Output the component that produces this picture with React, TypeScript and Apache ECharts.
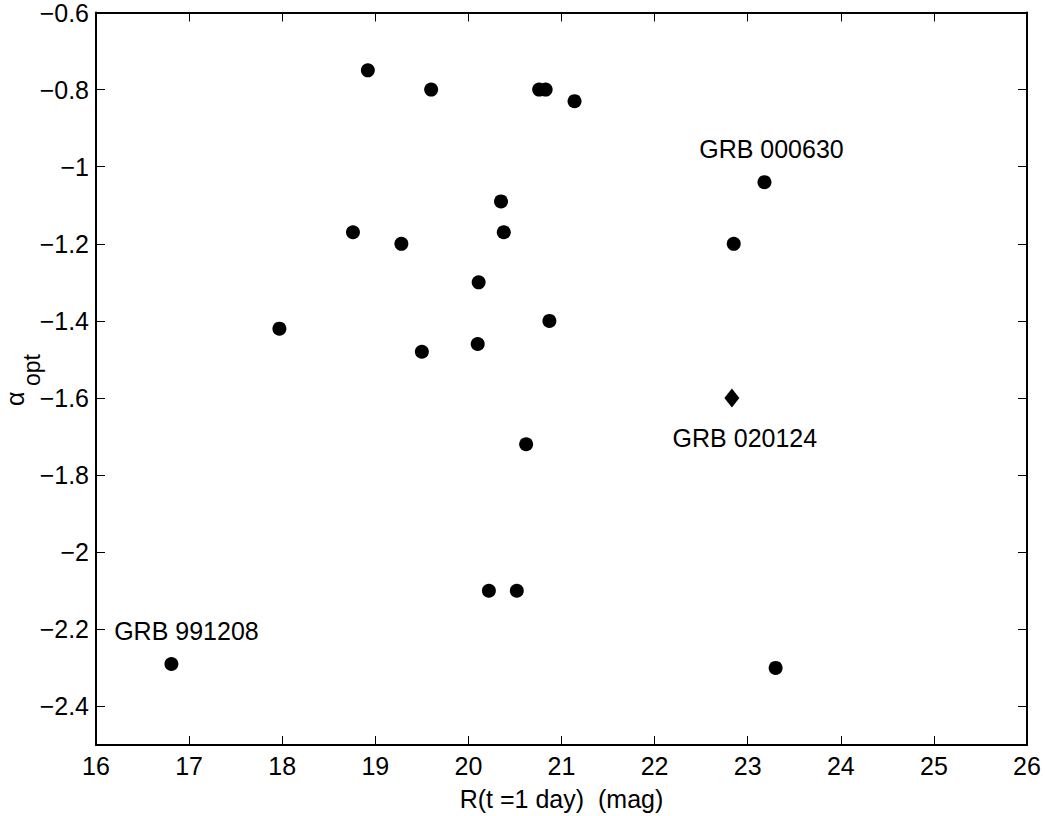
import React, { useEffect, useRef } from "react";
import * as echarts from "echarts";

// R(t = 1 day) magnitudes and optical decay indices (circles)
const rMag = [16.81, 17.97, 18.76, 18.92, 19.28, 19.5, 19.6, 20.1, 20.11, 20.22, 20.35, 20.38, 20.52, 20.62, 20.76, 20.83, 20.87, 21.14, 22.85, 23.18, 23.3];
const alphaOpt = [-2.29, -1.42, -1.17, -0.75, -1.2, -1.48, -0.8, -1.46, -1.3, -2.1, -1.09, -1.17, -2.1, -1.72, -0.8, -0.8, -1.4, -0.83, -1.2, -1.04, -2.3];

// special burst (diamond)
const rSpecial = [22.83];
const alphaSpecial = [-1.6];

// annotated bursts: index into circle arrays
const circleNames: Record<number, string> = { 0: "GRB 991208", 19: "GRB 000630" };
const specialNames = ["GRB 020124"];

const xTicks = [16, 17, 18, 19, 20, 21, 22, 23, 24, 25, 26];
const yTicks = [-2.4, -2.2, -2.0, -1.8, -1.6, -1.4, -1.2, -1.0, -0.8, -0.6];

const FONT = "'Liberation Sans', Arial, Helvetica, sans-serif";

const labelOffsets: Record<string, number[]> = {
  "GRB 991208": [15, -33],
  "GRB 000630": [7, -33],
  "GRB 020124": [13, 40],
};

function fmtY(v: number) {
  const a = parseFloat(Math.abs(v).toFixed(1));
  return (v < 0 ? "\u2212" : "") + a;
}

export default function App() {
  const ref = useRef<HTMLDivElement>(null);
  useEffect(() => {
    if (!ref.current) return;
    const chart = echarts.init(ref.current, undefined, { renderer: "svg" });

    const mkLabel = (name: string) => ({
      show: true,
      formatter: name,
      position: "inside",
      offset: labelOffsets[name],
      color: "#000",
      fontSize: 25,
      fontFamily: FONT,
    });

    const circleData = rMag.map((x, i) => {
      const d: any = { value: [x, alphaOpt[i]] };
      if (circleNames[i]) d.label = mkLabel(circleNames[i]);
      return d;
    });
    const specialData = rSpecial.map((x, i) => ({
      value: [x, alphaSpecial[i]],
      label: mkLabel(specialNames[i]),
    }));

    const axisLine = { show: true, onZero: false, lineStyle: { color: "#000", width: 2 } };
    const axisTick = { show: true, inside: true, length: 9, lineStyle: { color: "#000", width: 1 } };

    chart.setOption({
      animation: false,
      backgroundColor: "#fff",
      grid: { left: 96, top: 12, width: 931, height: 734, containLabel: false },
      xAxis: [
        {
          type: "value",
          position: "bottom",
          min: 16,
          max: 26,
          interval: 1,
          axisLine,
          axisTick,
          splitLine: { show: false },
          axisLabel: {
            color: "#000",
            fontSize: 25,
            fontFamily: FONT,
            margin: 8,
            customValues: xTicks,
          },
          name: "R(t =1 day)  (mag)",
          nameLocation: "middle",
          nameGap: 41,
          nameTextStyle: { color: "#000", fontSize: 25, fontFamily: FONT },
        },
        {
          type: "value",
          position: "top",
          min: 16,
          max: 26,
          interval: 1,
          axisLine,
          axisTick,
          splitLine: { show: false },
          axisLabel: { show: false },
        },
      ],
      yAxis: [
        {
          type: "value",
          position: "left",
          min: -2.5,
          max: -0.6,
          axisLine,
          axisTick: { ...axisTick, customValues: yTicks },
          splitLine: { show: false },
          axisLabel: {
            color: "#000",
            fontSize: 25,
            fontFamily: FONT,
            margin: 7,
            customValues: yTicks,
            formatter: fmtY,
          },
        },
        {
          type: "value",
          position: "right",
          min: -2.5,
          max: -0.6,
          axisLine,
          axisTick: { ...axisTick, customValues: yTicks },
          splitLine: { show: false },
          axisLabel: { show: false },
        },
      ],
      graphic: [
        {
          type: "text",
          x: 15,
          y: 406,
          rotation: Math.PI / 2,
          style: {
            text: "\u03b1",
            fontSize: 25,
            fontFamily: FONT,
            fill: "#000",
            align: "left",
            verticalAlign: "middle",
          },
        },
        {
          type: "text",
          x: 32,
          y: 386,
          rotation: Math.PI / 2,
          style: {
            text: "opt",
            fontSize: 23,
            fontFamily: FONT,
            fill: "#000",
            align: "left",
            verticalAlign: "middle",
          },
        },
      ],
      series: [
        {
          type: "scatter",
          xAxisIndex: 0,
          yAxisIndex: 0,
          symbol: "circle",
          symbolSize: 14,
          itemStyle: { color: "#000", opacity: 1 },
          data: circleData,
        },
        {
          type: "scatter",
          xAxisIndex: 0,
          yAxisIndex: 0,
          symbol: "diamond",
          symbolSize: [15, 19],
          itemStyle: { color: "#000", opacity: 1 },
          data: specialData,
        },
      ],
    });
    return () => chart.dispose();
  }, []);
  return (
    <div
      ref={ref}
      style={{ position: "fixed", left: 0, top: 0, width: 1045, height: 816, background: "#fff" }}
    />
  );
}
